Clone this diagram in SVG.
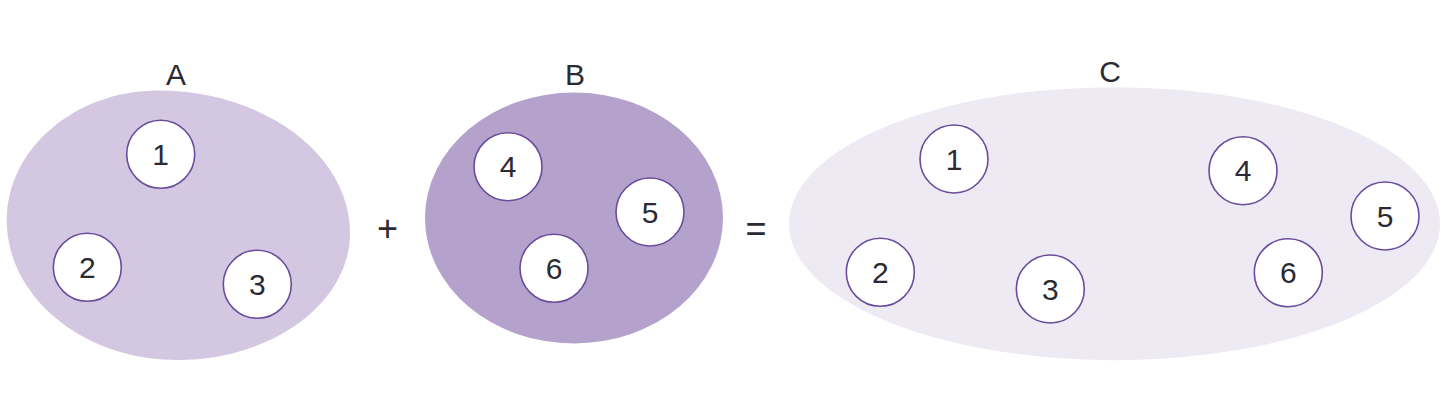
<svg xmlns="http://www.w3.org/2000/svg" width="1452" height="418" viewBox="0 0 1452 418">
<style>
.lbl{font-family:"Liberation Sans",Arial,sans-serif;font-size:30px;fill:#2b2a33;text-anchor:middle}
.op{font-family:"Liberation Sans",Arial,sans-serif;font-size:36px;fill:#2b2a33;text-anchor:middle}
.el{fill:#ffffff;stroke:#6a4c9c;stroke-width:1.6}
.num{font-family:"Liberation Sans",Arial,sans-serif;font-size:30px;fill:#2b2a33;text-anchor:middle}
</style>
<rect width="1452" height="418" fill="#ffffff"/>
<g id="setA">
<path d="M158,90.5 C264,90.5 350,154.6 350,233 C350,303 272,360 177,360 C83,360 6.7,297 6.7,220 C6.7,149 75,90.5 158,90.5 Z" fill="#d3c7e1"/>
<text class="lbl" x="176" y="84.5">A</text>
</g>
<g id="setB">
<ellipse cx="574" cy="218" rx="149" ry="125.5" fill="#b4a2cc"/>
<text class="lbl" x="575" y="84.5">B</text>
</g>
<g id="setC">
<ellipse cx="1114.5" cy="223.7" rx="325.5" ry="136.5" fill="#edeaf4"/>
<text class="lbl" x="1110" y="81.5">C</text>
</g>
<g id="a1"><circle class="el" cx="160.7" cy="154.3" r="34"/><text class="num" x="160.7" y="165">1</text></g>
<g id="a2"><circle class="el" cx="87.3" cy="267.3" r="34"/><text class="num" x="87.3" y="278">2</text></g>
<g id="a3"><circle class="el" cx="257.3" cy="284.3" r="34"/><text class="num" x="257.3" y="295">3</text></g>
<g id="b4"><circle class="el" cx="508" cy="166.7" r="34"/><text class="num" x="508" y="177.4">4</text></g>
<g id="b5"><circle class="el" cx="650" cy="212" r="34"/><text class="num" x="650" y="222.7">5</text></g>
<g id="b6"><circle class="el" cx="554" cy="268.3" r="34"/><text class="num" x="554" y="279">6</text></g>
<g id="c1"><circle class="el" cx="954" cy="159" r="34"/><text class="num" x="954" y="169.7">1</text></g>
<g id="c2"><circle class="el" cx="880.3" cy="272.3" r="34"/><text class="num" x="880.3" y="283">2</text></g>
<g id="c3"><circle class="el" cx="1050.3" cy="289" r="34"/><text class="num" x="1050.3" y="299.7">3</text></g>
<g id="c4"><circle class="el" cx="1243" cy="170.7" r="34"/><text class="num" x="1243" y="181.4">4</text></g>
<g id="c5"><circle class="el" cx="1385" cy="216" r="34"/><text class="num" x="1385" y="226.7">5</text></g>
<g id="c6"><circle class="el" cx="1288.3" cy="272.7" r="34"/><text class="num" x="1288.3" y="283.4">6</text></g>
<g id="ops">
<text class="op" x="387.5" y="241">+</text>
<text class="op" x="756" y="240.5">=</text>
</g>
<g id="connectors"></g>
</svg>
